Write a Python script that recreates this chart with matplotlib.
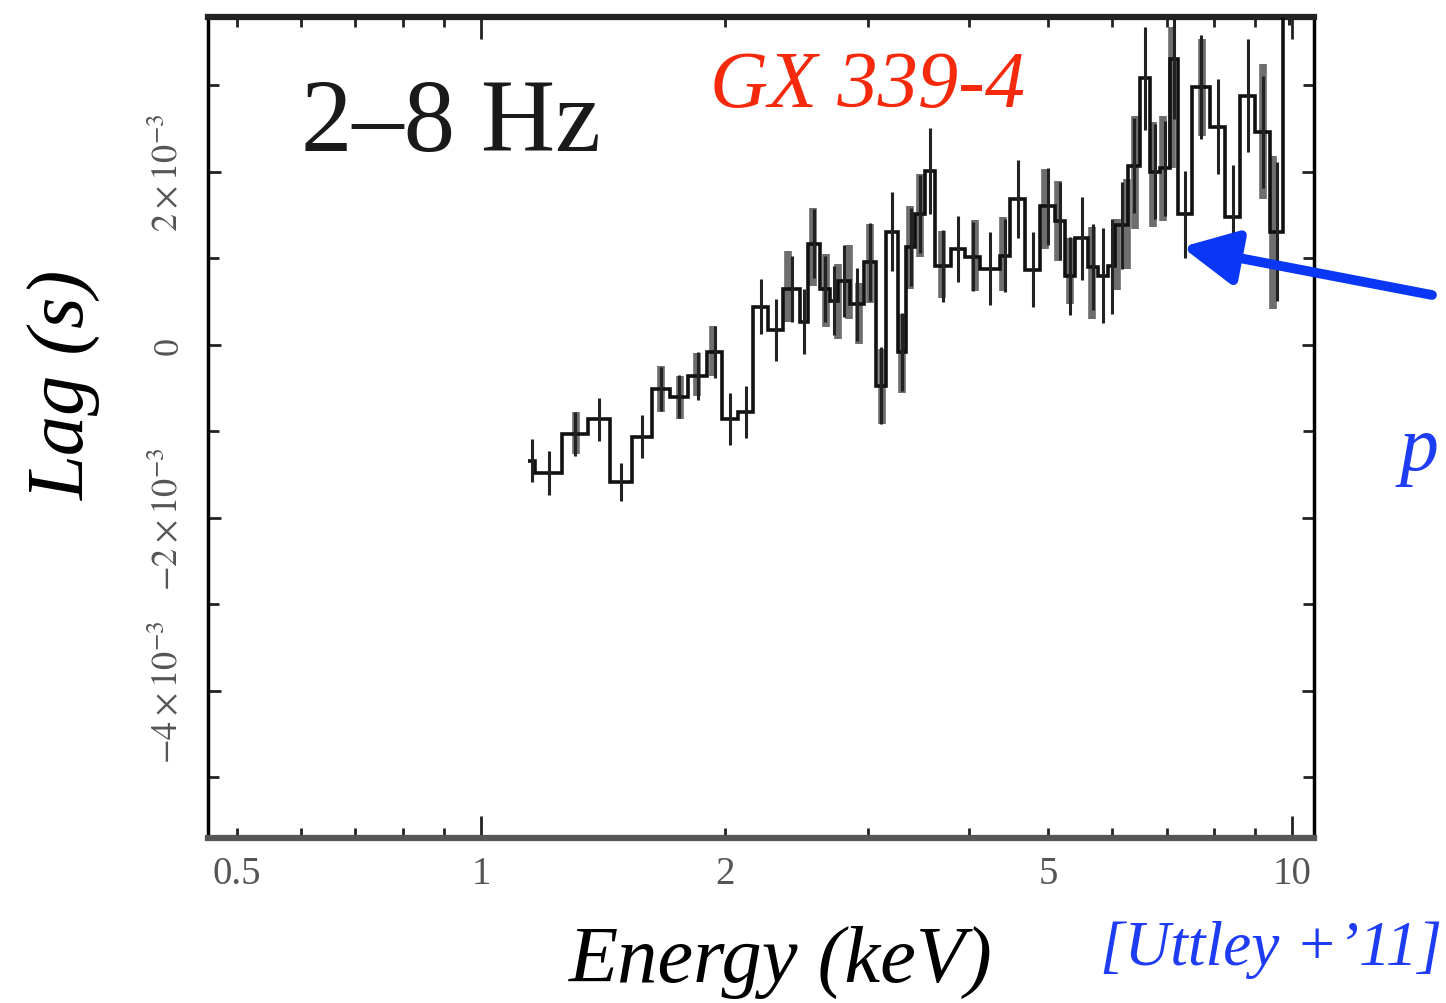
import numpy as np
import matplotlib.pyplot as plt
from matplotlib.ticker import FixedLocator, FixedFormatter

# black lag spectrum: bin edges (keV), lag per bin (ms), 1-sigma error (ms)
edges = [1.143, 1.166, 1.259, 1.355, 1.442, 1.535, 1.625, 1.710, 1.800, 1.900,
         1.983, 2.074, 2.165, 2.259, 2.357, 2.474, 2.531, 2.618, 2.694, 2.755,
         2.851, 2.967, 3.070, 3.158, 3.267, 3.342, 3.429, 3.527, 3.629, 3.797,
         3.951, 4.123, 4.365, 4.490, 4.686, 4.890, 5.103, 5.250, 5.401, 5.605,
         5.766, 5.932, 6.050, 6.278, 6.495, 6.682, 6.875, 7.072, 7.234, 7.528,
         7.922, 8.267, 8.627, 9.002, 9.395, 9.748, 10.09]
lag_ms = [-1.34, -1.48, -1.03, -0.86, -1.58, -1.06, -0.51, -0.60, -0.36, -0.08,
          -0.86, -0.78, 0.44, 0.17, 0.65, 0.27, 1.17, 0.65, 0.51, 0.74,
          0.47, 0.96, -0.47, 1.31, -0.08, 1.13, 1.51, 2.01, 0.91, 1.11,
          1.02, 0.88, 1.03, 1.69, 0.87, 1.60, 1.43, 0.80, 1.23, 0.90,
          0.80, 0.91, 1.38, 2.07, 3.08, 2.00, 2.04, 3.31, 1.51, 2.98,
          2.52, 1.48, 2.88, 2.46, 1.31, 4.30]
err_ms = [0.25, 0.25, 0.25, 0.25, 0.22, 0.25, 0.25, 0.25, 0.28, 0.30,
          0.30, 0.30, 0.32, 0.36, 0.38, 0.38, 0.40, 0.38, 0.40, 0.42,
          0.42, 0.45, 0.45, 0.46, 0.45, 0.45, 0.45, 0.50, 0.42, 0.38,
          0.40, 0.42, 0.42, 0.45, 0.43, 0.45, 0.45, 0.45, 0.48, 0.50,
          0.55, 0.55, 0.50, 0.55, 0.60, 0.55, 0.55, 0.70, 0.50, 0.60,
          0.55, 0.60, 0.65, 0.65, 0.80, 0.60]

# grey spectrum (second data set), energy (keV), lag (ms), error (ms)
grey_e = [1.310, 1.668, 1.760, 1.846, 1.933, 2.391, 2.567, 2.663, 2.755, 2.843,
          2.925, 3.018, 3.122, 3.304, 3.381, 3.478, 3.702, 4.065, 4.402, 4.960,
          5.146, 5.325, 5.668, 6.084, 6.259, 6.403, 6.740, 6.934, 7.114, 7.745,
          9.210, 9.475]
grey_lag = [-1.02, -0.51, -0.61, -0.34, -0.07, 0.67, 1.13, 0.63, 0.50, 0.73,
            0.36, 0.94, -0.48, -0.10, 1.13, 1.50, 0.93, 1.03, 1.05, 1.57,
            1.43, 0.85, 0.83, 1.05, 1.40, 1.99, 1.97, 2.04, 2.86, 2.98,
            2.47, 1.30]
grey_err = [0.24, 0.27, 0.25, 0.25, 0.29, 0.41, 0.45, 0.42, 0.43, 0.43,
            0.35, 0.46, 0.43, 0.46, 0.48, 0.48, 0.39, 0.41, 0.43, 0.46,
            0.46, 0.38, 0.53, 0.41, 0.52, 0.65, 0.61, 0.61, 0.82, 0.56,
            0.78, 0.88]

xmaj = [1, 10]
xmin = [0.5, 0.6, 0.7, 0.8, 0.9, 2, 3, 4, 5, 6, 7, 8, 9]
xmin_labels = ['0.5', '', '', '', '', '2', '', '', '5', '', '', '', '']
ymaj = [-4e-3, -2e-3, 0, 2e-3]
ymaj_labels = [r'$-4\times10^{-3}$', r'$-2\times10^{-3}$', '0', r'$2\times10^{-3}$']
ymin = [-5e-3, -3e-3, -1e-3, 1e-3, 3e-3]

plt.rcParams['font.family'] = 'Liberation Serif'
plt.rcParams['mathtext.fontset'] = 'stix'

W, H = 1446, 1004
fig = plt.figure(figsize=(W / 100, H / 100), dpi=100)
ax = fig.add_axes([208 / W, 1 - 839 / H, (1314 - 208) / W, (839 - 18) / H])

e = np.array(edges)
centers = np.sqrt(e[:-1] * e[1:])
lag = np.array(lag_ms) * 1e-3
err = np.array(err_ms) * 1e-3

ax.errorbar(grey_e, np.array(grey_lag) * 1e-3, yerr=np.array(grey_err) * 1e-3,
            fmt='none', ecolor='#6e6e6e', elinewidth=5.5, capsize=0, zorder=2)
ax.stairs(lag, e, baseline=None, color='#111111', lw=2.6, zorder=3)
ax.errorbar(centers, lag, yerr=err, fmt='none', ecolor='#222222',
            elinewidth=2.2, capsize=0, zorder=3)

ax.set_xscale('log')
ax.set_xlim(0.4605, 10.64)
ax.set_ylim(-5.70e-3, 3.79e-3)

ax.xaxis.set_major_locator(FixedLocator(xmaj))
ax.xaxis.set_major_formatter(FixedFormatter(['1', '10']))
ax.xaxis.set_minor_locator(FixedLocator(xmin))
ax.xaxis.set_minor_formatter(FixedFormatter(xmin_labels))
ax.yaxis.set_major_locator(FixedLocator(ymaj))
ax.yaxis.set_major_formatter(FixedFormatter(ymaj_labels))
ax.yaxis.set_minor_locator(FixedLocator(ymin))

ax.tick_params(which='both', direction='in', top=True, right=True,
               color='#222222', labelcolor='#555555', width=2)
ax.tick_params(axis='x', which='major', length=16, labelsize=28, pad=12)
ax.tick_params(axis='x', which='minor', length=7, labelsize=28, pad=12)
ax.tick_params(axis='y', which='major', length=9, labelsize=26, pad=16)
ax.tick_params(axis='y', which='minor', length=8)
for lbl in ax.get_yticklabels():
    lbl.set_rotation(90)
    lbl.set_va('center')

ax.spines['top'].set_linewidth(4.5)
ax.spines['top'].set_color('#222222')
ax.spines['bottom'].set_linewidth(4.5)
ax.spines['bottom'].set_color('#555555')
ax.spines['left'].set_linewidth(2.5)
ax.spines['right'].set_linewidth(2.5)

ax.text(0.084, 0.838, '2\u20138 Hz', transform=ax.transAxes, fontsize=74,
        color='#1a1a1a', va='baseline')

fig.text(710 / W, 1 - 107 / H, 'GX 339-4', fontsize=58, style='italic',
         color='#f5290c', va='baseline')
fig.text(65 / W, 1 - 385 / H, 'Lag (s)', fontsize=58, style='italic',
         rotation=90, ha='center', va='center')
fig.text(781 / W, 1 - 962 / H, 'Energy (keV)', fontsize=58, style='italic',
         ha='center', va='center')
fig.text(1100 / W, 1 - 965 / H, '[Uttley +\u201911]', fontsize=45.5, style='italic',
         color='#1f3cf5', va='baseline')
fig.text(1400 / W, 1 - 470 / H, 'p', fontsize=56, style='italic',
         color='#1f3cf5', va='baseline')

ax.annotate('', xy=(1182 / W, 1 - 248 / H), xytext=(1432 / W, 1 - 296 / H),
            xycoords='figure fraction', textcoords='figure fraction',
            arrowprops=dict(arrowstyle='-|>,head_length=2.2,head_width=1.1',
                            mutation_scale=15, lw=7, color='#0a36f5',
                            shrinkA=0, shrinkB=0),
            annotation_clip=False)

fig.savefig('out.png', dpi=100)
